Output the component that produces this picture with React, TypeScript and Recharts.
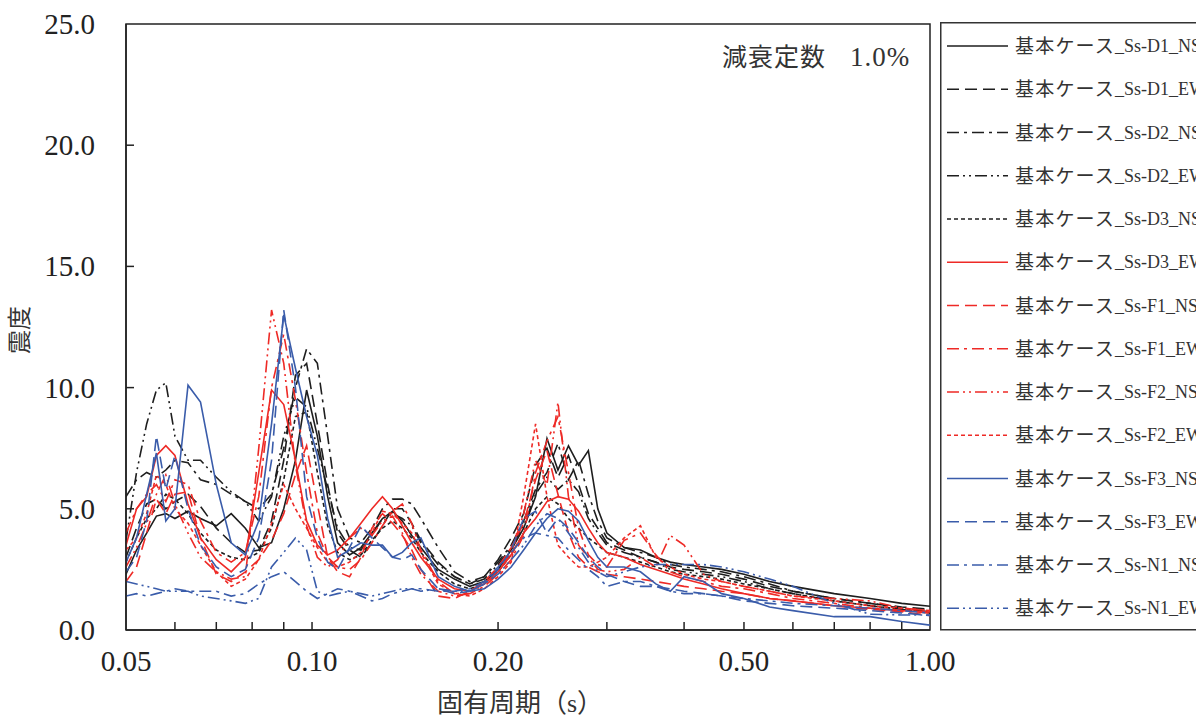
import { LineChart, Line, XAxis, YAxis, ReferenceArea } from "recharts";

// 固有周期 (s)
const periods = [
  0.05, 0.052, 0.054, 0.056, 0.058, 0.06,
  0.063, 0.066,
  0.07, 0.074, 0.078, 0.082, 0.086, 0.09, 0.094, 0.098,
  0.102, 0.106, 0.11,
  0.115, 0.12, 0.125, 0.13, 0.135, 0.14, 0.145, 0.15,
  0.16, 0.17, 0.18, 0.19, 0.2, 0.21, 0.22, 0.23, 0.24, 0.25, 0.26, 0.27, 0.28, 0.29, 0.3,
  0.32, 0.34, 0.36, 0.38, 0.4,
  0.43, 0.46, 0.5,
  0.55, 0.6, 0.7, 0.8, 0.9, 1.0,
];

const d1NS = [
  2.3, 3.3, 4.0, 4.7, 4.8, 4.6,
  4.9, 4.6,
  4.3, 4.8, 4.2, 3.4, 3.6, 5.0, 7.0, 9.9,
  8.0, 5.5, 3.6,
  3.1, 3.4, 4.0, 4.6, 4.9, 4.5, 3.9, 3.4,
  2.5, 2.1, 1.8, 2.0, 2.5, 3.3, 4.2, 5.5, 7.9, 6.6, 7.6, 6.8, 7.4, 5.0, 4.0,
  3.4, 3.3, 3.0, 2.8, 2.7,
  2.6, 2.5, 2.3,
  2.0, 1.8, 1.5, 1.3, 1.1, 0.98,
];
const d1EW = [
  3.0, 4.2, 5.2, 5.4, 5.0, 5.3,
  5.6, 5.1,
  4.2, 3.6, 3.2, 3.3, 4.5, 7.0, 10.5, 11.0,
  8.5, 6.0, 4.0,
  3.3, 3.0, 3.6, 4.3, 5.0, 5.0, 4.4, 3.7,
  2.8, 2.2, 1.9, 2.2, 2.9, 3.8, 4.8, 6.8, 7.5, 6.3, 7.2, 6.0, 4.8, 4.2, 3.6,
  3.3, 3.0, 2.8, 2.6, 2.5,
  2.4, 2.3, 2.1,
  1.8, 1.6, 1.3, 1.1, 0.95, 0.85,
];
const d2NS = [
  5.5, 6.2, 6.5, 6.3, 6.6, 7.0,
  6.9, 6.2,
  6.0, 5.6, 5.3, 5.0, 5.6, 7.5, 10.0, 11.6,
  11.0, 8.0, 5.0,
  3.8, 3.6, 4.2, 5.0, 5.4, 5.4, 5.2, 4.6,
  3.4, 2.4, 2.0, 2.2, 2.8, 3.5, 4.5, 5.8, 6.5, 7.7, 6.2, 7.0, 5.6, 4.5, 3.8,
  3.4, 3.2, 3.0, 2.7, 2.6,
  2.5, 2.4, 2.2,
  1.9, 1.6, 1.3, 1.1, 0.9, 0.75,
];
const d2EW = [
  3.7, 6.5, 8.5, 9.9, 10.2, 8.0,
  7.0, 7.0,
  6.3, 5.7, 5.3, 4.5, 5.5, 8.0, 9.6, 9.2,
  7.5, 5.8, 4.2,
  3.4, 3.3, 3.9, 4.6, 4.8, 4.6, 4.3, 3.6,
  2.7, 2.2, 1.9, 2.1, 2.7, 3.4, 4.3, 5.6, 6.3, 5.8, 6.2, 5.7, 4.6, 4.0, 3.5,
  3.2, 3.0, 2.8, 2.5, 2.4,
  2.3, 2.2, 2.0,
  1.7, 1.5, 1.2, 1.0, 0.85, 0.7,
];
const d3NS = [
  2.8, 3.8, 4.6, 5.0, 5.6, 5.4,
  4.8, 4.0,
  3.3, 3.0, 2.9, 3.2, 4.2, 6.2, 8.8, 9.0,
  6.5, 4.3, 3.2,
  2.9, 3.1, 3.7, 4.2, 4.5, 4.2, 3.8, 3.2,
  2.4, 1.9, 1.7, 1.9, 2.4, 3.1, 4.0, 5.0, 5.5, 5.2, 4.6, 4.2, 3.8, 3.5, 3.2,
  3.0, 2.8, 2.6, 2.4, 2.3,
  2.2, 2.1, 1.9,
  1.7, 1.5, 1.2, 1.0, 0.85, 0.72,
];
const d3EW = [
  3.5, 5.0, 5.5, 7.2, 7.6, 7.2,
  5.2, 3.8,
  2.9, 2.4, 3.0, 6.5, 9.9, 9.3, 7.0, 4.5,
  3.5, 3.1, 3.3,
  3.8, 4.4, 5.0, 5.5, 5.0, 4.3, 3.6, 3.0,
  2.1, 1.7, 1.6, 1.9, 2.4, 3.1, 4.0, 4.6, 5.3, 5.5, 5.4, 4.9, 4.2, 3.6, 3.2,
  3.0, 2.7, 2.5, 2.3, 2.1,
  1.9, 1.7, 1.5,
  1.3, 1.2, 1.0, 0.9, 0.8, 0.74,
];
const f1NS = [
  2.0, 2.6, 4.0, 5.4, 4.8, 5.6,
  5.7, 3.8,
  2.3, 2.0, 2.4, 2.9, 3.7, 4.8, 6.4, 7.6,
  5.2, 3.0, 2.4,
  2.2, 3.0, 4.2, 4.8, 4.4, 3.9, 3.3, 2.5,
  1.4, 1.3, 1.6, 2.0, 2.6, 3.4, 4.4, 6.2, 7.4, 5.6, 4.0, 3.0, 2.6, 2.4, 2.3,
  2.2, 2.1, 2.0, 1.9, 1.8,
  1.7, 1.6, 1.5,
  1.3, 1.2, 1.0, 0.85, 0.75, 0.6,
];
const f1EW = [
  4.0, 5.0, 5.6, 6.0, 5.3, 6.2,
  6.0, 4.5,
  3.2, 2.8, 3.2, 5.5, 10.0, 12.2, 9.5, 6.5,
  4.0, 3.0, 2.6,
  2.5, 2.9, 3.6, 4.3, 4.9, 5.2, 4.4, 3.3,
  2.0, 1.5, 1.5, 1.8, 2.3, 2.9, 3.9, 6.5, 7.8, 8.8, 6.5, 4.2, 3.1, 2.7, 2.6,
  3.7, 4.0, 3.1, 2.4, 2.2,
  2.0, 1.8, 1.7,
  1.5, 1.3, 1.1, 0.9, 0.8, 0.7,
];
const f2NS = [
  2.6, 3.4, 4.4, 5.6, 6.4, 5.2,
  4.0, 3.0,
  2.4, 2.1, 2.2, 7.5, 13.2, 11.0, 6.8, 4.3,
  3.0, 2.6, 2.9,
  3.8, 4.2, 3.9, 4.5, 4.7, 4.0, 3.0, 2.3,
  1.6, 1.4, 1.5, 1.9, 2.4, 3.2, 4.8, 7.0, 6.0, 9.4, 5.5, 3.5, 3.0, 2.5, 2.4,
  2.5, 3.0, 2.6, 3.9, 3.5,
  2.3, 2.0, 1.8,
  1.6, 1.4, 1.3, 1.2, 0.9, 0.8,
];
const f2EW = [
  3.3, 3.8, 4.8, 6.4, 6.0, 5.0,
  4.4, 3.5,
  2.4, 1.8, 2.1, 2.9, 4.4, 6.0, 5.0, 4.2,
  3.4, 2.8, 2.6,
  2.8, 3.2, 4.0, 4.9, 4.8, 4.4, 4.0, 3.2,
  1.9, 1.5, 1.4, 1.7, 2.2, 2.8, 5.5, 8.5, 5.5, 3.5, 3.0, 2.6, 2.6, 2.8, 3.0,
  3.8, 4.3, 3.0, 2.6, 2.3,
  2.1, 2.0, 1.8,
  1.6, 1.4, 1.2, 1.0, 0.9, 0.8,
];
const f3NS = [
  2.8, 3.8, 5.6, 7.3, 4.5, 5.0,
  10.1, 9.4,
  6.0, 3.6, 3.1, 4.5, 8.5, 13.0, 10.8, 8.8,
  7.2, 4.6, 3.0,
  3.3, 3.6, 3.5, 3.5, 3.0, 3.2, 3.6, 3.8,
  2.2, 1.8, 1.6, 1.7, 2.1, 2.6, 3.3, 4.0, 4.6, 5.0, 4.9, 4.5, 3.7, 3.0, 2.6,
  2.6, 2.4, 1.9, 1.6, 2.2,
  2.0, 1.5, 1.3,
  0.95, 0.8, 0.55, 0.55, 0.35, 0.2,
];
const f3EW = [
  2.4, 3.0, 4.5, 8.0, 5.8, 7.2,
  5.0, 3.5,
  2.6, 2.2, 2.5, 3.8, 7.0, 13.2, 10.0, 5.5,
  3.8, 2.8, 2.5,
  3.4, 4.3, 3.8, 3.4, 3.0, 2.9, 3.1, 2.5,
  1.7, 1.5, 1.6, 1.9, 2.5, 3.3, 4.6, 4.9, 4.0, 4.6, 4.2, 3.6, 3.0, 2.6, 2.3,
  2.0, 1.8, 1.8, 1.7, 1.6,
  1.5, 1.4, 1.2,
  1.1, 1.0, 0.9, 0.8, 0.7, 0.6,
];
const n1NS = [
  1.4, 1.5, 1.4, 1.5, 1.6, 1.7,
  1.6, 1.6,
  1.6, 1.4, 1.5, 1.9, 2.2, 2.4, 2.0, 1.6,
  1.3, 1.5, 1.7,
  1.6, 1.4, 1.2, 1.3, 1.5, 1.6, 1.7, 1.7,
  1.6, 1.6, 1.7, 2.0, 2.6, 3.2, 3.8, 4.0, 3.9, 3.8, 3.3, 2.9, 2.5, 2.2, 1.8,
  2.0, 2.0, 1.8, 1.6, 1.5,
  1.5, 1.4, 1.3,
  1.2, 1.1, 1.0, 0.9, 0.8, 0.7,
];
const n1EW = [
  2.0, 1.9, 1.8, 1.7, 1.6, 1.6,
  1.6, 1.4,
  1.3, 1.2, 1.1, 1.3, 2.6, 3.2, 3.8, 3.3,
  1.6, 1.4, 1.5,
  1.6, 1.5, 1.4, 1.5, 1.6, 1.7, 1.7, 1.6,
  1.7, 1.6, 1.6, 1.9, 2.3, 2.9, 3.5, 4.3, 4.8, 4.6, 4.0, 3.4, 2.8, 2.4, 2.2,
  2.4, 2.6, 2.7, 2.7, 2.7,
  2.7, 2.6, 2.4,
  2.1, 1.8, 1.1, 0.65, 0.62, 0.62,
];

const xTicks = [0.05, 0.06, 0.07, 0.08, 0.09, 0.1, 0.2, 0.3, 0.4, 0.5, 0.6, 0.7, 0.8, 0.9, 1];
const xLabels: Record<string, string> = { "0.05": "0.05", "0.1": "0.10", "0.2": "0.20", "0.5": "0.50", "1": "1.00" };
const yTicks = [0, 5, 10, 15, 20, 25];

const BLACK = "#1e1e1e";
const RED = "#ee2a26";
const BLUE = "#3a5caa";

const SOLID = undefined;
const DASH = "12 6";
const DASH_DOT = "12 5 3 5";
const DASH_DOT_DOT = "12 4 2 4 2 4";
const DOTTED = "4 3";

const seriesList = [
  { key: "d1NS", name: "基本ケース_Ss-D1_NS", values: d1NS, color: BLACK, dash: SOLID },
  { key: "d1EW", name: "基本ケース_Ss-D1_EW", values: d1EW, color: BLACK, dash: DASH },
  { key: "d2NS", name: "基本ケース_Ss-D2_NS", values: d2NS, color: BLACK, dash: DASH_DOT },
  { key: "d2EW", name: "基本ケース_Ss-D2_EW", values: d2EW, color: BLACK, dash: DASH_DOT_DOT },
  { key: "d3NS", name: "基本ケース_Ss-D3_NS", values: d3NS, color: BLACK, dash: DOTTED },
  { key: "d3EW", name: "基本ケース_Ss-D3_EW", values: d3EW, color: RED, dash: SOLID },
  { key: "f1NS", name: "基本ケース_Ss-F1_NS", values: f1NS, color: RED, dash: DASH },
  { key: "f1EW", name: "基本ケース_Ss-F1_EW", values: f1EW, color: RED, dash: DASH_DOT },
  { key: "f2NS", name: "基本ケース_Ss-F2_NS", values: f2NS, color: RED, dash: DASH_DOT_DOT },
  { key: "f2EW", name: "基本ケース_Ss-F2_EW", values: f2EW, color: RED, dash: DOTTED },
  { key: "f3NS", name: "基本ケース_Ss-F3_NS", values: f3NS, color: BLUE, dash: SOLID },
  { key: "f3EW", name: "基本ケース_Ss-F3_EW", values: f3EW, color: BLUE, dash: DASH },
  { key: "n1NS", name: "基本ケース_Ss-N1_NS", values: n1NS, color: BLUE, dash: DASH_DOT },
  { key: "n1EW", name: "基本ケース_Ss-N1_EW", values: n1EW, color: BLUE, dash: DASH_DOT_DOT },
];

const data = periods.map((t, i) => {
  const row: Record<string, number> = { t };
  seriesList.forEach((s) => {
    row[s.key] = s.values[i];
  });
  return row;
});

const SERIF = '"Liberation Serif", "Times New Roman", "DejaVu Serif", "Noto Sans CJK JP", serif';
const AXIS = "#222";

function XTick(props: any) {
  const { x, y, payload } = props;
  const label = xLabels[String(payload.value)];
  const inner = payload.value > 0.05 && payload.value < 1;
  return (
    <g>
      {inner && <line x1={x} x2={x} y1={y} y2={y - 8} stroke={AXIS} strokeWidth={1.5} />}
      {label && (
        <text x={x} y={y + 41} textAnchor="middle" fill="#222" style={{ fontFamily: SERIF, fontSize: 29 }}>
          {label}
        </text>
      )}
    </g>
  );
}

function YTick(props: any) {
  const { x, y, payload } = props;
  const inner = payload.value > 0 && payload.value < 25;
  return (
    <g>
      {inner && <line x1={x} x2={x + 8} y1={y} y2={y} stroke={AXIS} strokeWidth={1.5} />}
      <text x={x - 31} y={y + 10} textAnchor="end" fill="#222" style={{ fontFamily: SERIF, fontSize: 29 }}>
        {Number(payload.value).toFixed(1)}
      </text>
    </g>
  );
}

export default function App() {
  return (
    <div
      style={{
        position: "absolute",
        left: 0,
        top: 0,
        width: 1196,
        height: 717,
        overflow: "hidden",
        background: "#fff",
      }}
    >
      <LineChart width={1196} height={717} data={data} margin={{ top: 24, right: 266, bottom: 0, left: 0 }}>
        <XAxis
          dataKey="t"
          type="number"
          scale="log"
          domain={[0.05, 1]}
          allowDataOverflow
          ticks={xTicks}
          interval={0}
          height={87}
          tickSize={0}
          tickMargin={0}
          tickLine={false}
          axisLine={{ stroke: AXIS, strokeWidth: 1.5 }}
          tick={(p: any) => <XTick {...p} />}
        />
        <YAxis
          type="number"
          domain={[0, 25]}
          ticks={yTicks}
          interval={0}
          width={126}
          tickSize={0}
          tickMargin={0}
          tickLine={false}
          axisLine={{ stroke: AXIS, strokeWidth: 1.5 }}
          tick={(p: any) => <YTick {...p} />}
        />
        <ReferenceArea x1={0.05} x2={1} y1={0} y2={25} fill="none" stroke={AXIS} strokeWidth={1.5} />
        {seriesList.map((s) => (
          <Line
            key={s.key}
            dataKey={s.key}
            name={s.name}
            type="linear"
            stroke={s.color}
            strokeDasharray={s.dash}
            strokeWidth={1.6}
            dot={false}
            isAnimationActive={false}
          />
        ))}
      </LineChart>

      <svg
        width={1196}
        height={717}
        style={{ position: "absolute", left: 0, top: 0, pointerEvents: "none", fontFamily: SERIF }}
      >
        <text
          x={20}
          y={330}
          transform="rotate(-90 20 330)"
          textAnchor="middle"
          dominantBaseline="central"
          fill="#333"
          style={{ fontSize: 24 }}
        >
          震度
        </text>
        <text x={520} y={703} textAnchor="middle" dominantBaseline="central" fill="#333" style={{ fontSize: 26 }}>
          固有周期（s）
        </text>
        <text x={722} y={57} dominantBaseline="central" fill="#333" style={{ fontSize: 25, letterSpacing: 1 }}>
          減衰定数
        </text>
        <text x={850} y={57} dominantBaseline="central" fill="#333" style={{ fontSize: 27, letterSpacing: 1 }}>
          1.0%
        </text>

        <rect x={940.75} y={22.75} width={300} height={607} fill="#fff" stroke="#333" strokeWidth={1.5} />
        {seriesList.map((s, i) => {
          const cy = 46 + i * 43.25;
          const cut = s.name.indexOf("_");
          return (
            <g key={s.key}>
              <line x1={947} x2={1008} y1={cy} y2={cy} stroke={s.color} strokeWidth={1.6} strokeDasharray={s.dash} />
              <text x={1015} y={cy} dominantBaseline="central" fill="#333">
                <tspan style={{ fontSize: 19, letterSpacing: 1.2 }}>{s.name.slice(0, cut)}</tspan>
                <tspan style={{ fontSize: 18 }}>{s.name.slice(cut)}</tspan>
              </text>
            </g>
          );
        })}
      </svg>
    </div>
  );
}
